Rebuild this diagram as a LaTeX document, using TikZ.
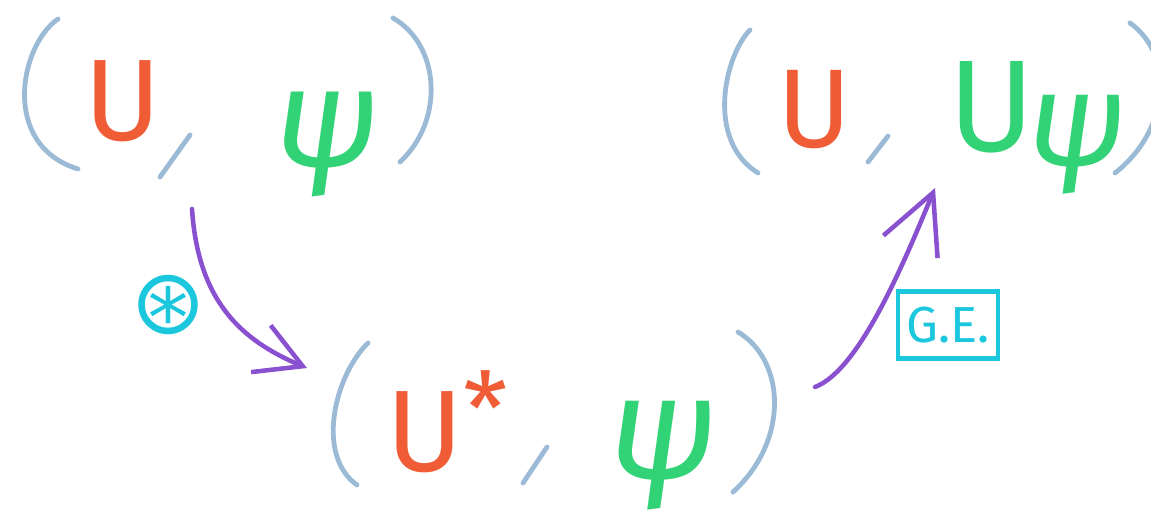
\documentclass[tikz,border=0pt]{standalone}
\usepackage{fontspec}
\setsansfont{Fira Sans}
\newfontfamily\symfont{DejaVu Sans}
\usepackage{xcolor}
\usetikzlibrary{positioning,arrows.meta}
\definecolor{parenblue}{RGB}{155,186,214}
\definecolor{oporange}{RGB}{239,92,54}
\definecolor{stgreen}{RGB}{50,211,118}
\definecolor{flowpurple}{RGB}{137,80,208}
\definecolor{tagcyan}{RGB}{27,199,221}
\tikzset{
  paren/.style    = {draw=parenblue, line width=3.6pt, line cap=round},
  opsym/.style    = {text=oporange, inner sep=0pt, font=\sffamily\fontsize{87}{87}\selectfont},
  stsym/.style    = {text=stgreen, inner sep=0pt, font=\sffamily\itshape\fontsize{106}{106}\selectfont},
  flow/.style     = {draw=flowpurple, line width=3.4pt, line cap=round},
  tagbox/.style   = {draw=tagcyan, text=tagcyan, line width=3.4pt, inner sep=0pt,
                     minimum width=75pt, minimum height=50pt, font=\sffamily\fontsize{38}{38}\selectfont},
  tagmark/.style  = {text=tagcyan, inner sep=0pt, font=\symfont\fontsize{68}{68}\selectfont},
}

\begin{document}
\begin{tikzpicture}[x=0.75pt,y=-0.75pt]
  \useasboundingbox (0,0) rectangle (1151,520);

  % (U, psi)
  \draw[paren] (58,19) .. controls (20,45) and (0,145) .. (78,169);
  \node[opsym] (opA) at (123,101) {U};
  \draw[paren] (190,135) -- (160,177);
  \node[stsym] (stA) at (327,145) {ψ};
  \draw[paren] (393,18) .. controls (440,45) and (445,120) .. (400,162);

  % (U*, psi)
  \draw[paren] (368,343) .. controls (335,375) and (315,455) .. (357,485);
  \node[opsym] (opB) at (447,422) {U\raisebox{0.22em}{\fontsize{76}{76}\selectfont*}};
  \draw[paren] (547,447) -- (523,483);
  \node[stsym, font=\sffamily\itshape\fontsize{110}{110}\selectfont] (stB) at (663,456) {ψ};
  \draw[paren] (738,332) .. controls (785,360) and (790,440) .. (733,492);

  % (U, U psi)
  \draw[paren] (750,30) .. controls (725,55) and (705,140) .. (758,173);
  \node[opsym, font=\sffamily\fontsize{84}{84}\selectfont] (opC) at (815,110) {U};
  \draw[paren] (888,136) -- (868,162);
  \node[opsym, text=stgreen, font=\sffamily\fontsize{98}{98}\selectfont] (stC) at (992,107) {U};
  \node[stsym, anchor=west, font=\sffamily\itshape\fontsize{100}{100}\selectfont] (stD) at (1026,145) {ψ};
  \draw[paren] (1130,23) .. controls (1175,55) and (1170,130) .. (1115,173);

  % arrows
  \coordinate (twistFrom) at (192,209);
  \coordinate (twistTo)   at (307,368);
  \coordinate (geFrom)    at (815,387);
  \coordinate (geTo)      at (935,188);
  \draw[flow, -{Straight Barb[length=34pt,width=38pt]}]
    (twistFrom) .. controls (198,300) and (240,340) .. (twistTo);
  \draw[flow, -{Straight Barb[length=44pt,width=44pt]}]
    (geFrom) .. controls (860,370) and (905,260) .. (geTo);

  % labels
  \node[tagmark] (twistMark) at (168,305) {⊛};
  \node[tagbox]  (geTag)     at (948,325) {G.E.};
\end{tikzpicture}
\end{document}
